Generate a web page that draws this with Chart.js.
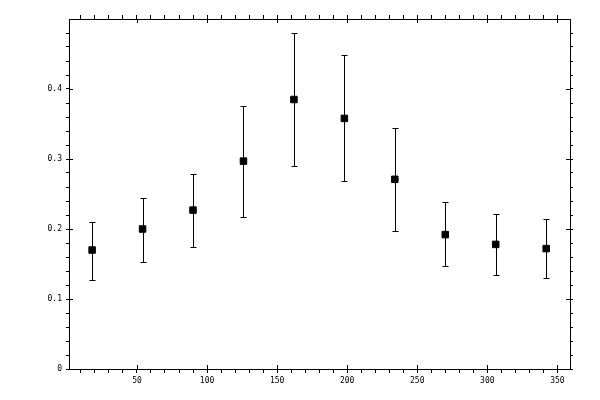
<!DOCTYPE html>
<html>
<head>
<meta charset="utf-8">
<script src="https://cdn.jsdelivr.net/npm/chart.js@4/dist/chart.umd.min.js"></script>
<style>
  html, body { margin: 0; padding: 0; background: #fff; }
  #wrap { width: 600px; height: 400px; }
</style>
</head>
<body>
<div id="wrap"><canvas id="c" width="600" height="400"></canvas></div>
<script>
// measured values
const xValues = [18, 54, 90, 126, 162, 198, 234, 270, 306, 342];
const yValues = [0.170, 0.200, 0.227, 0.297, 0.385, 0.358, 0.271, 0.192, 0.178, 0.172];
const yUpper  = [0.210, 0.245, 0.278, 0.376, 0.480, 0.449, 0.345, 0.239, 0.222, 0.214];
const yLower  = [0.127, 0.153, 0.175, 0.217, 0.290, 0.268, 0.197, 0.147, 0.134, 0.130];

const xTicks = [10, 20, 30, 40, 50, 60, 70, 80, 90, 100, 110, 120, 130, 140, 150, 160, 170, 180,
                190, 200, 210, 220, 230, 240, 250, 260, 270, 280, 290, 300, 310, 320, 330, 340, 350];
const xMajor = [50, 100, 150, 200, 250, 300, 350];
const yTicks = [0, 0.02, 0.04, 0.06, 0.08, 0.1, 0.12, 0.14, 0.16, 0.18, 0.2, 0.22, 0.24,
                0.26, 0.28, 0.3, 0.32, 0.34, 0.36, 0.38, 0.4, 0.42, 0.44, 0.46, 0.48];
const yMajor = [0, 0.1, 0.2, 0.3, 0.4];

const tickFont = { family: 'DejaVu Sans Mono', size: 8 };

function isMajor(list, v) {
    return list.some(m => Math.abs(m - v) < 1e-9);
}

// error bars + inward half of the major ticks
const errorBarPlugin = {
    id: 'errorBars',
    beforeDatasetsDraw(chart) {
        const ctx = chart.ctx;
        const xs = chart.scales.x;
        const ys = chart.scales.y;
        ctx.save();
        ctx.strokeStyle = '#000';
        ctx.lineWidth = 1;
        ctx.beginPath();
        xValues.forEach((xv, i) => {
            const px = Math.round(xs.getPixelForValue(xv)) + 0.5;
            const top = Math.round(ys.getPixelForValue(yUpper[i])) + 0.5;
            const bot = Math.round(ys.getPixelForValue(yLower[i])) + 0.5;
            ctx.moveTo(px, top); ctx.lineTo(px, bot);
            ctx.moveTo(px - 3, top); ctx.lineTo(px + 3, top);
            ctx.moveTo(px - 3, bot); ctx.lineTo(px + 3, bot);
        });
        ctx.stroke();
        ctx.restore();
    },
    afterDraw(chart) {
        const ctx = chart.ctx;
        const a = chart.chartArea;
        const xs = chart.scales.x;
        const ys = chart.scales.y;
        ctx.save();
        ctx.strokeStyle = '#000';
        ctx.lineWidth = 1;
        ctx.beginPath();
        xMajor.forEach(v => {
            const px = Math.round(xs.getPixelForValue(v)) + 0.5;
            ctx.moveTo(px, a.bottom); ctx.lineTo(px, a.bottom - 4);
            ctx.moveTo(px, a.top); ctx.lineTo(px, a.top + 4);
        });
        yMajor.forEach(v => {
            const py = Math.round(ys.getPixelForValue(v)) + 0.5;
            ctx.moveTo(a.left, py); ctx.lineTo(a.left + 4, py);
            ctx.moveTo(a.right, py); ctx.lineTo(a.right - 4, py);
        });
        ctx.stroke();
        ctx.restore();
    }
};

function xScale(position, showLabels, size) {
    return {
        type: 'linear',
        position: position,
        min: 1.5,
        max: 359,
        afterBuildTicks: s => { s.ticks = xTicks.map(v => ({ value: v })); },
        afterFit: s => { s.height = size; },
        border: { display: true, color: '#000', width: 1 },
        grid: { display: true, drawOnChartArea: false, drawTicks: true, tickLength: 4, color: '#000', lineWidth: 1 },
        ticks: {
            display: showLabels,
            color: '#000',
            font: tickFont,
            padding: 3,
            maxRotation: 0,
            autoSkip: false,
            callback: v => isMajor(xMajor, v) ? String(v) : ''
        }
    };
}

function yScale(position, showLabels, size) {
    return {
        type: 'linear',
        position: position,
        min: 0,
        max: 0.5,
        afterBuildTicks: s => { s.ticks = yTicks.map(v => ({ value: v })); },
        afterFit: s => { s.width = size; },
        border: { display: true, color: '#000', width: 1 },
        grid: { display: true, drawOnChartArea: false, drawTicks: true, tickLength: 3, color: '#000', lineWidth: 1 },
        ticks: {
            display: showLabels,
            color: '#000',
            font: tickFont,
            padding: 4,
            autoSkip: false,
            callback: v => isMajor(yMajor, v) ? (v === 0 ? '0' : v.toFixed(1)) : ''
        }
    };
}

new Chart(document.getElementById('c'), {
    type: 'scatter',
    data: {
        datasets: [{
            data: xValues.map((x, i) => ({ x: x, y: yValues[i] })),
            pointStyle: 'rect',
            pointRadius: 4.6,
            pointHoverRadius: 4.6,
            backgroundColor: '#000',
            borderColor: '#000',
            borderWidth: 1,
            xAxisID: 'x',
            yAxisID: 'y'
        }]
    },
    options: {
        responsive: false,
        animation: false,
        devicePixelRatio: 1,
        layout: { padding: 0 },
        plugins: { legend: { display: false }, tooltip: { enabled: false } },
        scales: {
            x: xScale('bottom', true, 31),
            x2: xScale('top', false, 19),
            y: yScale('left', true, 69),
            y2: yScale('right', false, 30)
        }
    },
    plugins: [errorBarPlugin]
});
</script>
</body>
</html>
